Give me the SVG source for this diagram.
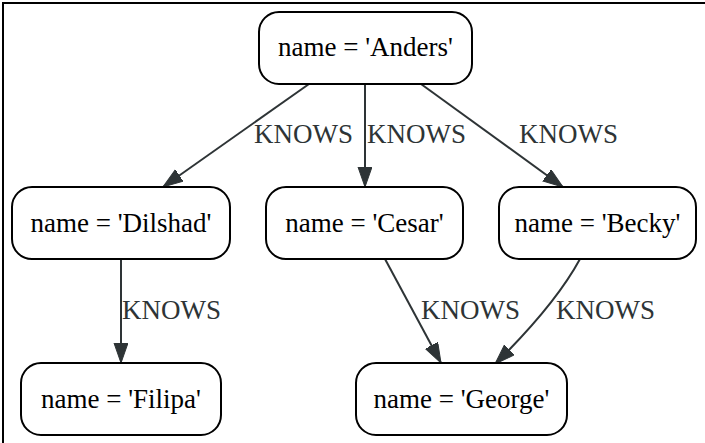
<svg xmlns="http://www.w3.org/2000/svg" width="705" height="443" viewBox="0 0 705 443">
  <style>
    .node rect { fill: #ffffff; stroke: #000000; stroke-width: 2; }
    .node text { font-family: 'Liberation Serif', 'Times New Roman', serif; font-size: 27px; fill: #000000; text-anchor: middle; }
    .edge path { fill: none; stroke: #2e3436; stroke-width: 2; marker-end: url(#arrow); }
    .label { font-family: 'Liberation Serif', 'Times New Roman', serif; font-size: 27px; fill: #2e3436; }
  </style>
  <defs>
    <marker id="arrow" markerUnits="userSpaceOnUse" markerWidth="22" markerHeight="16" refX="20" refY="7" orient="auto">
      <path d="M0,0 L20,7 L0,14 Z" fill="#2e3436" stroke="#2e3436" stroke-width="1"/>
    </marker>
  </defs>
  <rect width="705" height="443" fill="#ffffff"/>
  <path d="M3,443 V3 H705" fill="none" stroke="#000000" stroke-width="2"/>

  <g id="edges">
    <g class="edge"><path d="M309,84 L163,187"/></g>
    <g class="edge"><path d="M365,84 L365,187"/></g>
    <g class="edge"><path d="M421,84 L563,187"/></g>
    <g class="edge"><path d="M121,259 L121,363"/></g>
    <g class="edge"><path d="M385,259 L441,363"/></g>
    <g class="edge"><path d="M580,259 Q555,305 495,364"/></g>
    <text class="label" x="254" y="143">KNOWS</text>
    <text class="label" x="367" y="143">KNOWS</text>
    <text class="label" x="519" y="143">KNOWS</text>
    <text class="label" x="122" y="319">KNOWS</text>
    <text class="label" x="421" y="319">KNOWS</text>
    <text class="label" x="556" y="319">KNOWS</text>
  </g>

  <g id="anders" class="node">
    <rect x="259" y="12" width="213" height="72" rx="20"/>
    <text x="365.5" y="56">name = 'Anders'</text>
  </g>
  <g id="dilshad" class="node">
    <rect x="12" y="187" width="218" height="72" rx="20"/>
    <text x="121" y="232">name = 'Dilshad'</text>
  </g>
  <g id="cesar" class="node">
    <rect x="266" y="187" width="197" height="72" rx="20"/>
    <text x="364.5" y="232">name = 'Cesar'</text>
  </g>
  <g id="becky" class="node">
    <rect x="499" y="187" width="197" height="72" rx="20"/>
    <text x="597.5" y="232">name = 'Becky'</text>
  </g>
  <g id="filipa" class="node">
    <rect x="21" y="363" width="200" height="72" rx="20"/>
    <text x="121" y="408">name = 'Filipa'</text>
  </g>
  <g id="george" class="node">
    <rect x="356" y="363" width="211" height="72" rx="20"/>
    <text x="461.5" y="408">name = 'George'</text>
  </g>
</svg>
